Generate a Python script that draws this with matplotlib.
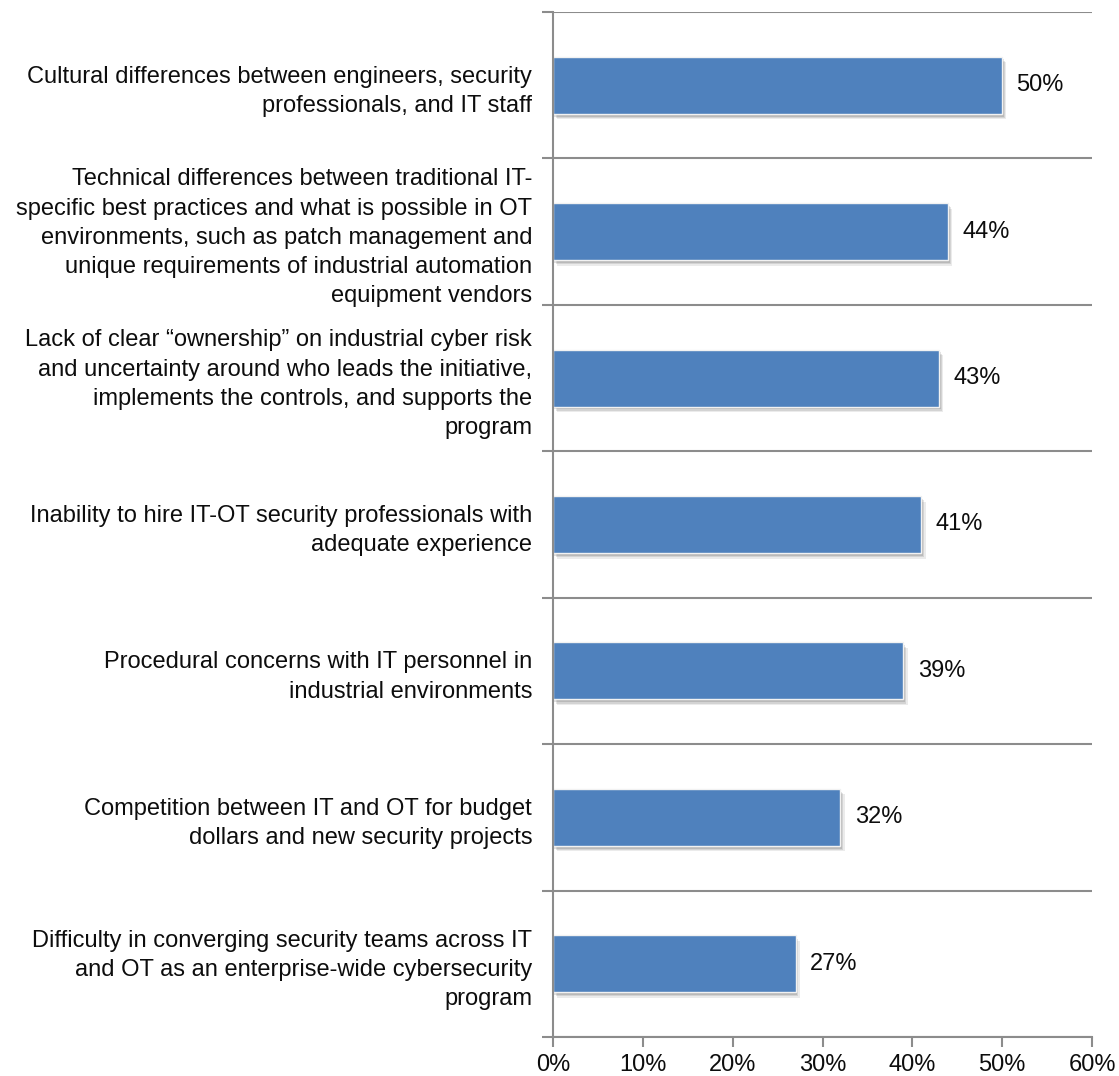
import numpy as np
import matplotlib
matplotlib.use("Agg")
import matplotlib.pyplot as plt
import matplotlib.patheffects as pe
from matplotlib.ticker import FixedLocator, FuncFormatter

# Challenges to IT-OT security convergence (share of respondents)
categories = [
    "Cultural differences between engineers, security\nprofessionals, and IT staff",
    "Technical differences between traditional IT-\nspecific best practices and what is possible in OT\n"
    "environments, such as patch management and\nunique requirements of industrial automation\nequipment vendors",
    "Lack of clear \u201cownership\u201d on industrial cyber risk\nand uncertainty around who leads the initiative,\n"
    "implements the controls, and supports the\nprogram",
    "Inability to hire IT-OT security professionals with\nadequate experience",
    "Procedural concerns with IT personnel in\nindustrial environments",
    "Competition between IT and OT for budget\ndollars and new security projects",
    "Difficulty in converging security teams across IT\nand OT as an enterprise-wide cybersecurity\nprogram",
]
values = [0.50, 0.44, 0.43, 0.41, 0.39, 0.32, 0.27]
x_ticks = [0.0, 0.1, 0.2, 0.3, 0.4, 0.5, 0.6]

plt.rcParams['font.family'] = ['Liberation Sans', 'DejaVu Sans']
bar_color = '#4F81BD'
line_color = '#8C8C8C'
text_color = '#0d0d0d'

fig = plt.figure(figsize=(11.19, 10.76), dpi=100)
ax = fig.add_axes([0.4942, 0.0363, 0.9759 - 0.4942, 0.9888 - 0.0363])

y = np.arange(len(categories))
# soft drop shadow under each bar
shadow = [pe.SimplePatchShadow(offset=(3, -4), shadow_rgbFace='#000000', alpha=0.08),
          pe.SimplePatchShadow(offset=(2, -3), shadow_rgbFace='#000000', alpha=0.10),
          pe.SimplePatchShadow(offset=(1, -2), shadow_rgbFace='#000000', alpha=0.12),
          pe.Normal()]
bars = ax.barh(y, values, height=0.39, color=bar_color, edgecolor='#F2F2F2',
               linewidth=1.0, zorder=3)
for b in bars:
    b.set_path_effects(shadow)

for yi, v in zip(y, values):
    ax.text(v + 0.016, yi, f"{v * 100:.0f}%", va='center', ha='left',
            fontsize=17, color=text_color)

ax.set_ylim(len(categories) - 0.5, -0.5)
ax.set_xlim(0, 0.6)

ax.set_yticks(y)
ax.set_yticklabels(categories, fontsize=17, color=text_color)
for t in ax.get_yticklabels():
    t.set_linespacing(1.42)
ax.yaxis.set_minor_locator(FixedLocator(np.arange(-0.5, len(categories), 1.0)))
ax.tick_params(axis='y', which='major', length=0, pad=15)
ax.tick_params(axis='y', which='minor', length=8, width=1.5, color=line_color)
ax.grid(axis='y', which='minor', color=line_color, linewidth=1.5, zorder=1)

ax.set_xticks(x_ticks)
ax.xaxis.set_major_formatter(FuncFormatter(lambda v, _: f"{v * 100:.0f}%"))
ax.tick_params(axis='x', length=7, width=1.5, color=line_color, labelsize=17,
               labelcolor=text_color, pad=5)

for side in ('top', 'right'):
    ax.spines[side].set_visible(False)
for side in ('left', 'bottom'):
    ax.spines[side].set_color(line_color)
    ax.spines[side].set_linewidth(1.5)
ax.spines['left'].set_zorder(4)

fig.savefig('out.png', dpi=100)
